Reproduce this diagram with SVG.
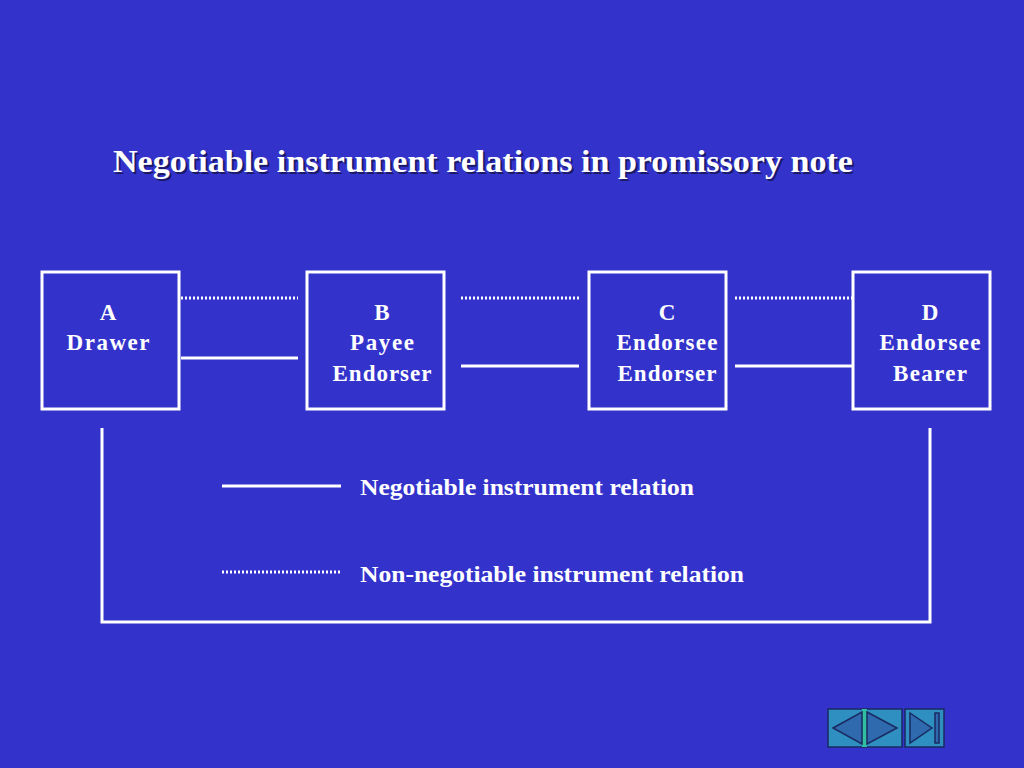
<svg xmlns="http://www.w3.org/2000/svg" width="1024" height="768" viewBox="0 0 1024 768">
<style>
.box{fill:none;stroke:#fff;stroke-width:3}
.t{font-family:"Liberation Serif","Times New Roman",serif;font-weight:bold;font-size:23px;fill:#fff;text-anchor:middle}
.s{stroke:#fff;stroke-width:3;fill:none}
.d{stroke:#fff;stroke-width:3;fill:none;stroke-dasharray:2 2}
.nb{fill:#2f8fc0;stroke:#1a2a60;stroke-width:1.5}
.tri{fill:#2f6aae;stroke:#1a2a60;stroke-width:1.5}
.l{font-family:"Liberation Serif","Times New Roman",serif;font-weight:bold;font-size:23px;fill:#fff}
</style>
<rect width="1024" height="768" fill="#3333cc"/>
<text x="115" y="174" textLength="740" lengthAdjust="spacingAndGlyphs" font-family="'Liberation Serif',serif" font-weight="bold" font-size="31" fill="#1a1a66">Negotiable instrument relations in promissory note</text>
<text x="113" y="172" textLength="740" lengthAdjust="spacingAndGlyphs" font-family="'Liberation Serif',serif" font-weight="bold" font-size="31" fill="#fff">Negotiable instrument relations in promissory note</text>
<g id="A"><rect class="box" x="42" y="272" width="137" height="137"/><text class="t" x="108" y="320">A</text><text class="t" x="108" y="350" textLength="83">Drawer</text></g>
<g id="B"><rect class="box" x="307" y="272" width="137" height="137"/><text class="t" x="382" y="320">B</text><text class="t" x="382" y="350" textLength="64">Payee</text><text class="t" x="382" y="381" textLength="99">Endorser</text></g>
<g id="C"><rect class="box" x="589" y="272" width="137" height="137"/><text class="t" x="667" y="320">C</text><text class="t" x="667" y="350" textLength="101">Endorsee</text><text class="t" x="667" y="381" textLength="99">Endorser</text></g>
<g id="D"><rect class="box" x="853" y="272" width="137" height="137"/><text class="t" x="930" y="320">D</text><text class="t" x="930" y="350" textLength="101">Endorsee</text><text class="t" x="930" y="381" textLength="74">Bearer</text></g>
<g id="connectors">
<line class="d" x1="181" y1="298" x2="298" y2="298"/>
<line class="s" x1="181" y1="358" x2="298" y2="358"/>
<line class="d" x1="461" y1="298" x2="579" y2="298"/>
<line class="s" x1="461" y1="366" x2="579" y2="366"/>
<line class="d" x1="735" y1="298" x2="852" y2="298"/>
<line class="s" x1="735" y1="366" x2="852" y2="366"/>
<polyline class="s" points="102,428 102,622 930,622 930,428"/>
<line class="s" x1="222" y1="486" x2="341" y2="486"/>
<line class="d" x1="222" y1="572" x2="341" y2="572"/>
</g>
<text class="l" x="360" y="495" textLength="334" lengthAdjust="spacingAndGlyphs">Negotiable instrument relation</text>
<text class="l" x="360" y="582" textLength="384" lengthAdjust="spacingAndGlyphs">Non-negotiable instrument relation</text>
<g id="nav">
<rect class="nb" x="828" y="709" width="74" height="38"/>
<rect x="862" y="709" width="5" height="38" fill="#30c0a0"/>
<polygon class="tri" points="833,728 862,712 862,744"/>
<polygon class="tri" points="867,712 897,728 867,744"/>
<rect class="nb" x="905" y="709" width="39" height="38"/>
<polygon class="tri" points="910,713 932,728 910,743"/>
<rect class="tri" x="935" y="713" width="4" height="30"/>
</g>
</svg>
